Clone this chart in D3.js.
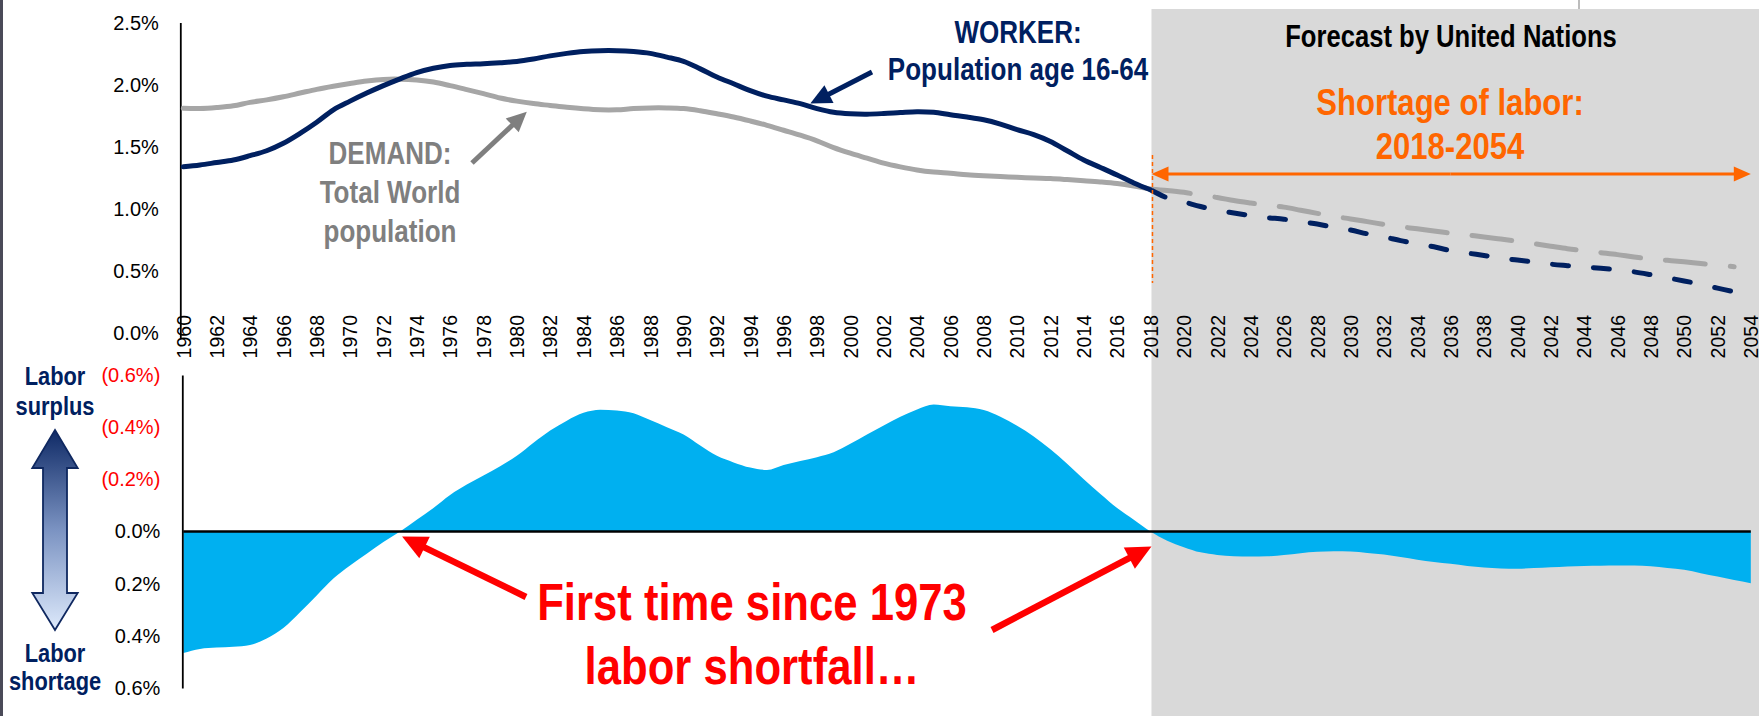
<!DOCTYPE html>
<html>
<head>
<meta charset="utf-8">
<script src="https://cdn.jsdelivr.net/npm/d3@7"></script>
<style>
  body { margin: 0; background: #fff; }
  svg { display: block; font-family: "Liberation Sans", Arial, sans-serif; }
</style>
</head>
<body>
<svg id="chart" width="1759" height="716"></svg>
<script>
// years used by the series
var histYears = d3.range(1960, 2019);   // 1960 - 2018 actual
var fcstYears = d3.range(2018, 2054);   // 2018 - 2053 UN forecast
var gapYears = d3.range(1960, 2055);    // 1960 - 2054 gap
var tickYears = d3.range(1960, 2055, 2);

// WORKER: growth of population age 16-64 (%)
var workerHist = [1.34, 1.355, 1.375, 1.395, 1.43, 1.47, 1.53, 1.61, 1.70, 1.80,
    1.87, 1.935, 1.995, 2.05, 2.10, 2.135, 2.158, 2.167, 2.172, 2.18,
    2.19, 2.21, 2.235, 2.255, 2.27, 2.277, 2.277, 2.27, 2.255, 2.225,
    2.19, 2.13, 2.065, 2.01, 1.955, 1.91, 1.88, 1.85, 1.81, 1.78,
    1.768, 1.765, 1.77, 1.778, 1.785, 1.78, 1.76, 1.742, 1.72, 1.685,
    1.64, 1.6, 1.545, 1.47, 1.395, 1.335, 1.274, 1.21, 1.155];
var workerFcst = [1.155, 1.09, 1.057, 1.02, 0.99, 0.968, 0.947, 0.93, 0.918, 0.898,
    0.879, 0.852, 0.83, 0.8, 0.775, 0.745, 0.72, 0.695, 0.665, 0.645,
    0.625, 0.605, 0.588, 0.572, 0.555, 0.543, 0.532, 0.522, 0.51, 0.493,
    0.47, 0.445, 0.42, 0.392, 0.362, 0.333];

// DEMAND: growth of total world population (%)
var demandHist = [1.812, 1.81, 1.818, 1.832, 1.86, 1.88, 1.905, 1.935, 1.965, 1.99,
    2.012, 2.032, 2.045, 2.047, 2.04, 2.024, 1.995, 1.963, 1.93, 1.895,
    1.87, 1.85, 1.835, 1.82, 1.808, 1.80, 1.80, 1.81, 1.815, 1.815,
    1.81, 1.792, 1.768, 1.742, 1.71, 1.675, 1.635, 1.595, 1.55, 1.495,
    1.45, 1.41, 1.37, 1.34, 1.315, 1.298, 1.288, 1.276, 1.268, 1.262,
    1.256, 1.25, 1.245, 1.237, 1.228, 1.218, 1.205, 1.185, 1.16];
var demandFcst = [1.16, 1.15, 1.135, 1.11, 1.093, 1.068, 1.048, 1.03, 1.015, 0.99,
    0.965, 0.94, 0.92, 0.898, 0.876, 0.857, 0.84, 0.822, 0.806, 0.79,
    0.775, 0.758, 0.74, 0.72, 0.7, 0.68, 0.664, 0.648, 0.632, 0.613,
    0.597, 0.586, 0.574, 0.56, 0.547, 0.535];

// labor surplus (+) / shortage (-) in % points
var laborGap = [-0.466, -0.45, -0.445, -0.442, -0.435, -0.41, -0.37, -0.31, -0.245, -0.18,
    -0.13, -0.085, -0.04, 0.0, 0.045, 0.09, 0.14, 0.18, 0.215, 0.25,
    0.29, 0.34, 0.387, 0.425, 0.455, 0.467, 0.464, 0.453, 0.427, 0.4,
    0.372, 0.33, 0.29, 0.265, 0.245, 0.236, 0.255, 0.27, 0.285, 0.304,
    0.336, 0.372, 0.406, 0.44, 0.468, 0.487, 0.48, 0.476, 0.466, 0.44,
    0.405, 0.364, 0.315, 0.26, 0.2, 0.144, 0.09, 0.045, 0.0, -0.035,
    -0.06, -0.08, -0.09, -0.095, -0.096, -0.095, -0.09, -0.083, -0.078, -0.076,
    -0.077, -0.082, -0.088, -0.098, -0.108, -0.117, -0.124, -0.132, -0.138, -0.142,
    -0.143, -0.14, -0.137, -0.134, -0.132, -0.131, -0.13, -0.13, -0.133, -0.14,
    -0.147, -0.16, -0.173, -0.186, -0.198];

var topTicks = [0, 0.5, 1, 1.5, 2, 2.5];
var gapTicks = [0.6, 0.4, 0.2, 0, -0.2, -0.4, -0.6];

var NAVY = "#002060", GREY = "#a6a6a6", DARKGREY = "#7f7f7f",
    ORANGE = "#ff6600", RED = "#ff0000", BLUE = "#00b0f0";

var svg = d3.select("#chart");
var W = 1759, H = 716;

var x = d3.scaleLinear().domain([1960, 2054]).range([183.3, 1750.8]);
var yTop = d3.scaleLinear().domain([0, 2.5]).range([333, 23]);
var yGap = d3.scaleLinear().domain([-0.6, 0.6]).range([688, 375]);

// slide border + forecast background
svg.append("rect").attr("x", 0).attr("y", 0).attr("width", 3).attr("height", H).attr("fill", "#4a4a58");
svg.append("line").attr("x1", 1579).attr("x2", 1579).attr("y1", 0).attr("y2", 10)
    .attr("stroke", "#a6a6a6").attr("stroke-width", 1.5);
svg.append("rect")
    .attr("x", x(2018) + 1).attr("y", 9)
    .attr("width", W - x(2018) - 1).attr("height", H - 9)
    .attr("fill", "#d9d9d9");

// ---------- bottom chart: surplus / shortage area ----------
var area = d3.area()
    .x(function (d, i) { return x(gapYears[i]); })
    .y0(yGap(0))
    .y1(function (d) { return yGap(d); })
    .curve(d3.curveMonotoneX);

svg.append("path").datum(laborGap).attr("d", area).attr("fill", BLUE);

svg.append("line")
    .attr("x1", x(1960)).attr("x2", x(2054))
    .attr("y1", yGap(0)).attr("y2", yGap(0))
    .attr("stroke", "#000").attr("stroke-width", 2.5);

var gapAxis = d3.axisLeft(yGap)
    .tickValues(gapTicks)
    .tickSize(0).tickSizeOuter(0)
    .tickPadding(22)
    .tickFormat(function (d) {
        var s = Math.abs(d).toFixed(1) + "%";
        return d > 0 ? "(" + s + ")" : s;
    });

var gGap = svg.append("g").attr("transform", "translate(" + (x(1960) - 1) + ",0)").call(gapAxis);
gGap.select(".domain").attr("stroke", "#000").attr("stroke-width", 1.8);
gGap.selectAll("text")
    .attr("font-size", 20)
    .attr("font-family", "Liberation Sans, Arial, sans-serif")
    .attr("fill", function (d) { return d > 0 ? RED : "#000"; });

// ---------- top chart ----------
var topAxis = d3.axisLeft(yTop)
    .tickValues(topTicks)
    .tickSize(0).tickSizeOuter(0)
    .tickPadding(22)
    .tickFormat(function (d) { return d.toFixed(1) + "%"; });

var gTop = svg.append("g").attr("transform", "translate(" + (x(1960) - 2.5) + ",0)").call(topAxis);
gTop.select(".domain")
    .attr("d", "M0," + (yTop(0) + 5) + "V" + yTop(2.5))
    .attr("stroke", "#000").attr("stroke-width", 1.8);
gTop.selectAll("text")
    .attr("font-size", 20)
    .attr("font-family", "Liberation Sans, Arial, sans-serif")
    .attr("fill", "#000");

var yearAxis = d3.axisBottom(x)
    .tickValues(tickYears)
    .tickSize(0)
    .tickFormat(d3.format("d"));

var gYears = svg.append("g").attr("transform", "translate(0,315)").call(yearAxis);
gYears.select(".domain").remove();
gYears.selectAll("text")
    .attr("x", 0).attr("y", 0).attr("dy", "0.35em")
    .attr("transform", "rotate(-90)")
    .style("text-anchor", "end")
    .attr("font-size", 19.5)
    .attr("font-family", "Liberation Sans, Arial, sans-serif")
    .attr("fill", "#000");

function pairs(years, values) {
    return years.map(function (yr, i) { return { year: yr, v: values[i] }; });
}

var line = d3.line()
    .x(function (d) { return x(d.year); })
    .y(function (d) { return yTop(d.v); })
    .curve(d3.curveCatmullRom);

function drawLine(data, color, dash) {
    svg.append("path")
        .datum(data)
        .attr("d", line)
        .attr("fill", "none")
        .attr("stroke", color)
        .attr("stroke-width", 5)
        .attr("stroke-linecap", "round")
        .attr("stroke-linejoin", "round")
        .attr("stroke-dasharray", dash || null);
}

drawLine(pairs(fcstYears, demandFcst), GREY, "40,25");
drawLine(pairs(fcstYears, workerFcst), NAVY, "16,25");
drawLine(pairs(histYears, demandHist), GREY);
drawLine(pairs(histYears, workerHist), NAVY);

// ---------- annotations ----------
function drawArrow(x1, y1, x2, y2, color, width, headLen, headHalf) {
    var ang = Math.atan2(y2 - y1, x2 - x1);
    var c = Math.cos(ang), s = Math.sin(ang);
    var bx = x2 - headLen * c, by = y2 - headLen * s;
    svg.append("line")
        .attr("x1", x1).attr("y1", y1)
        .attr("x2", bx + 2 * c).attr("y2", by + 2 * s)
        .attr("stroke", color).attr("stroke-width", width);
    svg.append("path")
        .attr("d", "M" + x2 + "," + y2 +
            "L" + (bx - s * headHalf) + "," + (by + c * headHalf) +
            "L" + (bx + s * headHalf) + "," + (by - c * headHalf) + "Z")
        .attr("fill", color);
}

function narrowText(cx, baseline, lines, size, color, lead) {
    var t = svg.append("text")
        .attr("transform", "translate(" + cx + "," + baseline + ") scale(0.84,1)")
        .attr("text-anchor", "middle")
        .attr("font-weight", "bold")
        .attr("font-size", size)
        .attr("fill", color);
    lines.forEach(function (s, i) {
        t.append("tspan").attr("x", 0).attr("y", i * lead).text(s);
    });
}

// forecast header + shortage period
narrowText(1451, 47, ["Forecast by United Nations"], 30.5, "#000", 0);
narrowText(1450, 115, ["Shortage of labor:", "2018-2054"], 37, ORANGE, 44);

svg.append("line")
    .attr("x1", x(2018) + 2).attr("x2", x(2018) + 2)
    .attr("y1", 155).attr("y2", 283)
    .attr("stroke", ORANGE).attr("stroke-width", 1.5)
    .attr("stroke-dasharray", "4,3");
var midX = (x(2018) + x(2054)) / 2;
drawArrow(midX, 174, x(2018) + 1, 174, ORANGE, 3, 17, 7.5);
drawArrow(midX, 174, x(2054), 174, ORANGE, 3, 17, 7.5);

// worker / demand labels
narrowText(1018, 43, ["WORKER:", "Population age 16-64"], 31, NAVY, 37);
drawArrow(872, 72, x(1997.6), yTop(1.85), NAVY, 5, 21, 10);

narrowText(390, 164, ["DEMAND:", "Total World", "population"], 31, DARKGREY, 39);
drawArrow(472, 163, x(1980.6), yTop(1.785), DARKGREY, 5, 20, 9.5);

// left legend: surplus / shortage
narrowText(55, 385, ["Labor", "surplus"], 26, NAVY, 30);
narrowText(55, 662, ["Labor", "shortage"], 26, NAVY, 28);

var grad = svg.append("defs").append("linearGradient")
    .attr("id", "legendGrad").attr("x1", 0).attr("x2", 0).attr("y1", 0).attr("y2", 1);
grad.append("stop").attr("offset", "0%").attr("stop-color", "#0f2a66");
grad.append("stop").attr("offset", "50%").attr("stop-color", "#7b93c2");
grad.append("stop").attr("offset", "100%").attr("stop-color", "#dde9fb");

var ax = 55, shaftHalf = 12, headHalfW = 22.7;
var legendArrow = [
    [ax, 430], [ax + headHalfW, 468], [ax + shaftHalf, 468], [ax + shaftHalf, 593],
    [ax + headHalfW, 593], [ax, 630], [ax - headHalfW, 593], [ax - shaftHalf, 593],
    [ax - shaftHalf, 468], [ax - headHalfW, 468]
];
svg.append("path")
    .attr("d", "M" + legendArrow.join("L") + "Z")
    .attr("fill", "url(#legendGrad)")
    .attr("stroke", "#0f2860")
    .attr("stroke-width", 1.8)
    .attr("stroke-linejoin", "miter");

// red call-out
narrowText(752, 620, ["First time since 1973", "labor shortfall\u2026"], 52, RED, 64);
drawArrow(526, 597, x(1973) + 2, yGap(0) + 5, RED, 6.5, 25, 12);
drawArrow(992, 630, x(2018) + 1, yGap(0) + 15, RED, 6.5, 25, 12);
</script>
</body>
</html>
